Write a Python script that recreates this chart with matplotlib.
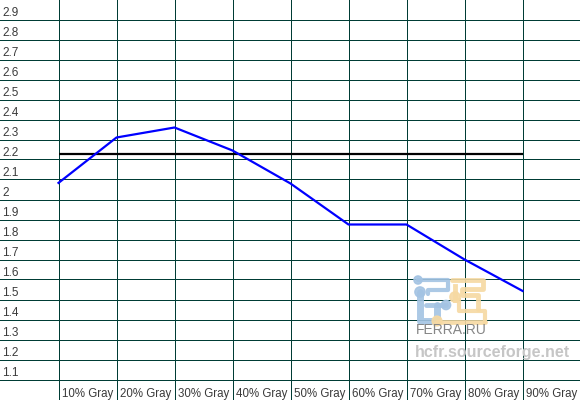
import matplotlib
matplotlib.use("Agg")
import matplotlib.pyplot as plt
import numpy as np

categories = ["10% Gray", "20% Gray", "30% Gray", "40% Gray", "50% Gray",
              "60% Gray", "70% Gray", "80% Gray", "90% Gray"]
gamma_values = [2.058, 2.285, 2.335, 2.220, 2.055, 1.850, 1.850, 1.675, 1.518]
reference_gamma = 2.2
y_tick_values = [2.9, 2.8, 2.7, 2.6, 2.5, 2.4, 2.3, 2.2, 2.1, 2.0,
                 1.9, 1.8, 1.7, 1.6, 1.5, 1.4, 1.3, 1.2, 1.1]
y_tick_labels = ["2.9", "2.8", "2.7", "2.6", "2.5", "2.4", "2.3", "2.2", "2.1", "2",
                 "1.9", "1.8", "1.7", "1.6", "1.5", "1.4", "1.3", "1.2", "1.1"]

FONT = ["Liberation Sans", "DejaVu Sans"]
GRID = "#003c35"
TXT = "#3a3a3a"

fig = plt.figure(figsize=(5.8, 4.0), dpi=100)
fig.patch.set_facecolor("white")
ax = fig.add_axes([0, 0, 1, 1])
ax.set_facecolor("white")
x = np.arange(len(categories))
ax.set_xlim(-58.5 / 58, (580 - 58.5) / 58)
ax.set_ylim(0.9725, 2.9725)
ax.axis("off")

# grid
for v in y_tick_values:
    ax.axhline(v - 0.025, color=GRID, lw=0.72, zorder=1, snap=True)
ax.axhline(1.1 - 0.1 - 0.025, color=GRID, lw=0.72, zorder=1, snap=True)
for xi in x:
    ax.axvline(xi, color=GRID, lw=0.72, zorder=1, snap=True)

# tick labels
for v, lab in zip(y_tick_values, y_tick_labels):
    ax.text(-58.5 / 58 + 2 / 58, v + 0.008, lab, ha="left", va="center",
            fontsize=8.5, color=TXT, family=FONT, zorder=3)
for xi, lab in zip(x, categories):
    ax.text(xi + 3 / 58, 1.1 - 0.1 + 0.005, lab, ha="left", va="center",
            fontsize=8.3, color=TXT, family=FONT, zorder=3)

# watermark (overlay in pixel coordinates)
ov = fig.add_axes([0, 0, 1, 1], zorder=0.5)
ov.set_xlim(0, 580)
ov.set_ylim(400, 0)
ov.axis("off")
ov.patch.set_alpha(0)
blue = "#a3c3e3"
orange = "#f6d9a2"
# blue F
ov.plot([418, 448, 448, 428, 428], [280, 280, 290, 290, 294], color=blue, lw=3,
        solid_capstyle="round", alpha=0.9, zorder=1)
ov.plot([420, 420, 437, 437], [292, 321, 321, 305], color=blue, lw=5,
        solid_capstyle="round", alpha=0.9, zorder=1)
ov.plot([426, 446], [305, 305], color=blue, lw=3.5, solid_capstyle="round", alpha=0.9, zorder=1)
ov.scatter([418, 420, 446], [280, 292, 305], s=[35, 55, 45], color=blue, alpha=0.9, zorder=2)
# orange E
ov.plot([452, 483, 483, 462, 462, 478, 478], [280, 280, 289, 289, 295, 295, 309],
        color=orange, lw=3.5, solid_capstyle="round", alpha=0.9, zorder=1)
ov.plot([455, 455], [286, 300], color=orange, lw=3.5, alpha=0.9, zorder=1)
ov.plot([459, 459, 485, 485], [300, 311, 311, 322], color=orange, lw=3, alpha=0.9, zorder=1)
ov.plot([437, 485], [322, 322], color=orange, lw=3.5, solid_capstyle="round", alpha=0.9, zorder=1)
ov.scatter([455, 437], [297, 321], s=[55, 50], color=orange, alpha=0.9, zorder=2)
ov.text(416, 330, "FERRA.RU", ha="left", va="center", fontsize=10, color="#858585",
        family=FONT, zorder=3)
ov.text(415, 352, "hcfr.sourceforge.net", ha="left", va="center", fontsize=11.5,
        fontweight="bold", color="#c6c6c6", family=FONT, zorder=3)

# data lines
ax.hlines(reference_gamma, x[0], x[-1], color="black", lw=1.6, zorder=4)
ax.plot(x, gamma_values, color="#0000ff", lw=1.6, zorder=5)

fig.savefig("out.png", dpi=100, facecolor="white")
